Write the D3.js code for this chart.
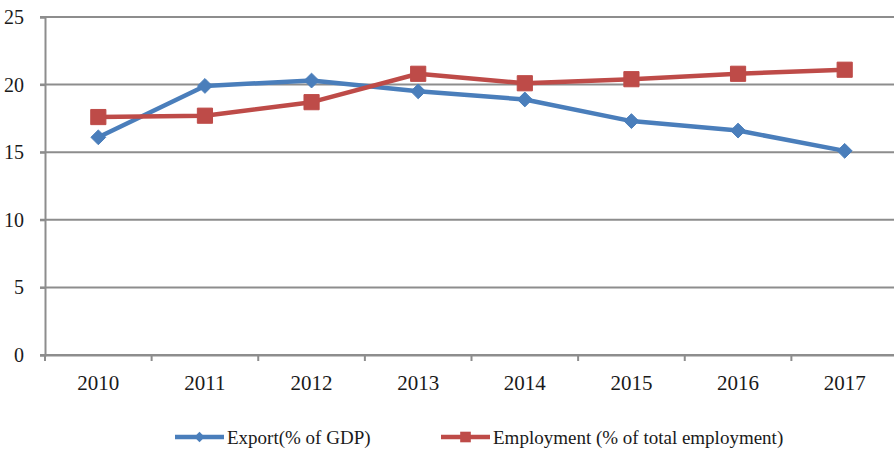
<!DOCTYPE html>
<html>
<head>
<meta charset="utf-8">
<script src="https://cdn.jsdelivr.net/npm/d3@7"></script>
<style>
  html, body { margin: 0; padding: 0; background: #fff; }
  svg { display: block; font-family: "Liberation Serif", "Times New Roman", serif; }
</style>
</head>
<body>
<svg id="chart" width="894" height="457"></svg>
<script>
// Years on the category axis
const years = ["2010", "2011", "2012", "2013", "2014", "2015", "2016", "2017"];
// Export as % of GDP
const exportShare = [16.1, 19.9, 20.3, 19.5, 18.9, 17.3, 16.6, 15.1];
// Employment as % of total employment
const employmentShare = [17.6, 17.7, 18.7, 20.8, 20.1, 20.4, 20.8, 21.1];
// Value axis ticks
const yTicks = [0, 5, 10, 15, 20, 25];

const blue = "#4a7ebb";
const red = "#be4b48";
const grid = "#8d8d8d";

const svg = d3.select("#chart");
const margin = { left: 45, right: -4, top: 17, bottom: 102 };
const W = 894, H = 457;

const x = d3.scaleBand().domain(years).range([margin.left, W - margin.right]);
const y = d3.scaleLinear().domain([0, 25]).range([H - margin.bottom, margin.top]);

// Horizontal gridlines
svg.append("g")
  .selectAll("line")
  .data(yTicks)
  .join("line")
  .attr("x1", margin.left - 5)
  .attr("x2", W)
  .attr("y1", d => y(d))
  .attr("y2", d => y(d))
  .attr("stroke", grid)
  .attr("stroke-width", 2);

// Y axis
const yAxis = svg.append("g")
  .attr("transform", `translate(${margin.left},0)`)
  .call(d3.axisLeft(y).tickValues(yTicks).tickSize(5).tickPadding(16));
yAxis.select(".domain").attr("stroke", grid).attr("stroke-width", 2);
yAxis.selectAll(".tick line").attr("stroke", grid).attr("stroke-width", 2);
yAxis.selectAll("text")
  .attr("font-family", "Liberation Serif, serif")
  .attr("font-size", 20)
  .attr("fill", "#1a1a1a");

// X axis with ticks on band boundaries
const xAxis = svg.append("g")
  .attr("transform", `translate(0,${y(0)})`)
  .call(d3.axisBottom(x).tickSize(0).tickPadding(20));
xAxis.select(".domain").attr("stroke", grid).attr("stroke-width", 2);
xAxis.selectAll("text")
  .attr("font-family", "Liberation Serif, serif")
  .attr("font-size", 21)
  .attr("fill", "#1a1a1a");
svg.append("g")
  .selectAll("line")
  .data(years.concat(["end"]))
  .join("line")
  .attr("x1", (d, i) => x.range()[0] + i * x.step())
  .attr("x2", (d, i) => x.range()[0] + i * x.step())
  .attr("y1", y(0))
  .attr("y2", y(0) + 6)
  .attr("stroke", grid)
  .attr("stroke-width", 2);

const cx = d => x(d) + x.bandwidth() / 2;

function drawSeries(values, color, shape) {
  const pts = years.map((yr, i) => [cx(yr), y(values[i])]);
  svg.append("path")
    .attr("d", d3.line()(pts))
    .attr("fill", "none")
    .attr("stroke", color)
    .attr("stroke-width", 4.5)
    .attr("stroke-linejoin", "round");
  svg.append("g")
    .selectAll("path")
    .data(pts)
    .join("path")
    .attr("transform", d => `translate(${d[0]},${d[1]})`)
    .attr("d", shape)
    .attr("fill", color)
    .attr("stroke", color)
    .attr("stroke-width", 1);
}

const diamond = d3.symbol().type(d3.symbolDiamond2).size(140)();
const square = d3.symbol().type(d3.symbolSquare).size(230)();

drawSeries(exportShare, blue, diamond);
drawSeries(employmentShare, red, square);

// Legend
const legend = [
  { label: "Export(% of GDP)", color: blue, shape: diamond, x0: 175 },
  { label: "Employment (% of total employment)", color: red, shape: square, x0: 441 }
];
const ly = 437;
const lg = svg.append("g").selectAll("g").data(legend).join("g");
lg.append("line")
  .attr("x1", d => d.x0).attr("x2", d => d.x0 + 49)
  .attr("y1", ly).attr("y2", ly)
  .attr("stroke", d => d.color).attr("stroke-width", 4.5);
lg.append("path")
  .attr("transform", d => `translate(${d.x0 + 24.5},${ly}) scale(0.7)`)
  .attr("d", d => d.shape)
  .attr("fill", d => d.color);
lg.append("text")
  .attr("x", d => d.x0 + 52)
  .attr("y", ly)
  .attr("dy", "0.35em")
  .attr("font-size", 19)
  .attr("fill", "#1a1a1a")
  .text(d => d.label);
</script>
</body>
</html>
